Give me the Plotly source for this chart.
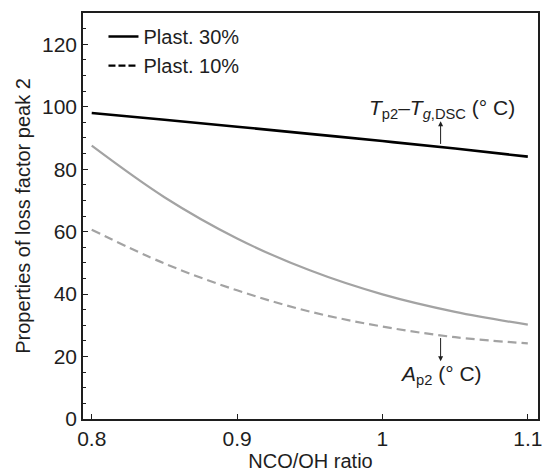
import plotly.graph_objects as go

nco_oh = [0.8, 0.85, 0.9, 0.95, 1.0, 1.05, 1.1]
tp2_minus_tg_30 = [98.0, 95.8, 93.6, 91.3, 89.0, 86.6, 84.0]
ap2_30 = [87.5, 71.0, 57.8, 47.6, 39.9, 34.3, 30.2]
ap2_10 = [60.6, 49.8, 41.2, 34.4, 29.6, 26.2, 24.2]

legend_names = ["Plast. 30%", "Plast. 10%"]
x_ticks = [0.8, 0.9, 1.0, 1.1]
x_tick_text = ["0.8", "0.9", "1", "1.1"]
y_ticks = [0, 20, 40, 60, 80, 100, 120]

FONT = "Liberation Sans, Arial, sans-serif"
GRAY = "#a3a3a3"
INK = "#1e1e1e"

fig = go.Figure()
fig.add_trace(go.Scatter(x=nco_oh, y=tp2_minus_tg_30, mode="lines", name=legend_names[0],
                         line=dict(color="black", width=2.6, shape="spline")))
fig.add_trace(go.Scatter(x=[None], y=[None], mode="lines", name=legend_names[1],
                         line=dict(color="black", width=2.2, dash="7px,3px")))
fig.add_trace(go.Scatter(x=nco_oh, y=ap2_30, mode="lines", showlegend=False,
                         line=dict(color=GRAY, width=2.2, shape="spline")))
fig.add_trace(go.Scatter(x=nco_oh, y=ap2_10, mode="lines", showlegend=False,
                         line=dict(color=GRAY, width=2.2, shape="spline", dash="9px,5px")))

# labels
fig.add_annotation(x=1.041, y=99.3, xref="x", yref="y", showarrow=False,
                   text="<i>T</i><sub>p2</sub>\u2013<i>T</i><sub><i>g</i>,DSC</sub> (° C)",
                   font=dict(size=21, color=INK, family=FONT))
fig.add_annotation(x=1.04, y=95.3, xref="x", yref="y", ax=1.04, ay=87.6, axref="x", ayref="y",
                   text="", showarrow=True, arrowhead=2, arrowsize=1, arrowwidth=1, arrowcolor=INK)
fig.add_annotation(x=1.04, y=14.2, xref="x", yref="y", showarrow=False,
                   text="<i>A</i><sub>p2</sub> (° C)",
                   font=dict(size=21, color=INK, family=FONT))
fig.add_annotation(x=1.04, y=18.5, xref="x", yref="y", ax=1.04, ay=26.4, axref="x", ayref="y",
                   text="", showarrow=True, arrowhead=2, arrowsize=1, arrowwidth=1, arrowcolor=INK)

fig.update_layout(
    width=542, height=472,
    margin=dict(l=83, r=4, t=13, b=53, autoexpand=False),
    paper_bgcolor="white", plot_bgcolor="white",
    font=dict(family=FONT, size=21, color=INK),
    showlegend=True,
    legend=dict(x=0.045, y=0.99, xanchor="left", yanchor="top", bgcolor="rgba(0,0,0,0)",
                font=dict(size=20), itemwidth=30, tracegroupgap=0),
)
fig.update_xaxes(range=[0.794, 1.107], tickvals=x_ticks, ticktext=x_tick_text,
                 ticks="inside", ticklen=5, tickwidth=1.2, tickcolor=INK,
                 showline=True, linecolor=INK, linewidth=1.5, mirror=True,
                 showgrid=False, zeroline=False, automargin=False,
                 ticklabeloverflow="allow",
                 title=dict(text="NCO/OH ratio", standoff=4, font=dict(size=20)),
                 tickfont=dict(size=21))
fig.update_yaxes(range=[0, 130], tickvals=y_ticks,
                 ticks="inside", ticklen=5, tickwidth=1.2, tickcolor=INK,
                 minor=dict(dtick=5, ticks="inside", ticklen=3, tickcolor=INK, showgrid=False),
                 showline=True, linecolor=INK, linewidth=1.5, mirror=True,
                 showgrid=False, zeroline=False, automargin=False,
                 ticklabeloverflow="allow",
                 title=dict(text="Properties of loss factor peak 2", standoff=6, font=dict(size=20)),
                 tickfont=dict(size=21))

fig.write_html("out.html", config={"displayModeBar": False},
               post_script="document.body.style.margin='0';document.body.style.overflow='hidden';")
